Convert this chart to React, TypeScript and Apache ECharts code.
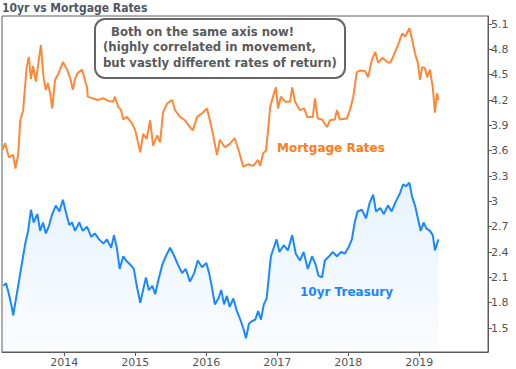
import React, { useEffect, useRef } from "react";
import * as echarts from "echarts";

// decimal-year positions and values
const mortgageTimes = [
  2013.13, 2013.165, 2013.22, 2013.28, 2013.31, 2013.35, 2013.38, 2013.42, 2013.47, 2013.5,
  2013.53, 2013.56, 2013.6, 2013.67, 2013.71, 2013.74, 2013.77, 2013.8, 2013.83, 2013.87,
  2013.91, 2013.94, 2013.98, 2014.04, 2014.09, 2014.12, 2014.15, 2014.19, 2014.25, 2014.28,
  2014.32, 2014.33, 2014.4, 2014.47, 2014.55, 2014.62, 2014.69, 2014.71, 2014.76, 2014.8,
  2014.83, 2014.88, 2014.95, 2015.0, 2015.07, 2015.11, 2015.16, 2015.21, 2015.25, 2015.31,
  2015.35, 2015.39, 2015.45, 2015.52, 2015.56, 2015.63, 2015.7, 2015.77, 2015.81, 2015.87,
  2015.95, 2016.01, 2016.05, 2016.09, 2016.15, 2016.19, 2016.26, 2016.33, 2016.4, 2016.47,
  2016.52, 2016.59, 2016.66, 2016.73, 2016.76, 2016.8, 2016.84, 2016.87, 2016.9, 2016.94,
  2016.98, 2017.01, 2017.05, 2017.11, 2017.18, 2017.21, 2017.25, 2017.32, 2017.38, 2017.42,
  2017.5, 2017.53, 2017.57, 2017.63, 2017.7, 2017.74, 2017.81, 2017.84, 2017.88, 2017.98,
  2018.03, 2018.07, 2018.12, 2018.17, 2018.24, 2018.28, 2018.33, 2018.38, 2018.42, 2018.48,
  2018.55, 2018.59, 2018.63, 2018.7, 2018.76, 2018.8, 2018.86, 2018.9, 2018.94, 2018.98,
  2019.01, 2019.04, 2019.08, 2019.11, 2019.15, 2019.18, 2019.19, 2019.22, 2019.25, 2019.27,
];
const mortgageValues = [
  3.61, 3.69, 3.52, 3.55, 3.39, 3.55, 3.96, 4.08, 4.59, 4.71,
  4.45, 4.6, 4.42, 4.85, 4.45, 4.32, 4.4, 4.28, 4.1, 4.44,
  4.5, 4.56, 4.65, 4.56, 4.44, 4.32, 4.45, 4.52, 4.56, 4.47,
  4.35, 4.24, 4.22, 4.2, 4.22, 4.19, 4.18, 4.24, 4.12, 4.08,
  3.97, 4.0, 3.93, 3.84, 3.58, 3.8, 3.74, 3.96, 3.66, 3.78,
  3.7, 4.05, 4.16, 4.2, 4.08, 4.0, 3.96, 3.88, 3.84, 4.0,
  4.05, 4.1, 3.96, 3.81, 3.55, 3.73, 3.64, 3.68, 3.75, 3.56,
  3.41, 3.44, 3.42, 3.49, 3.42, 3.57, 3.6, 3.84, 4.12, 4.24,
  4.35, 4.1, 4.24, 4.18, 4.18, 4.35, 4.18, 4.08, 4.1, 4.0,
  4.0, 4.22, 3.98, 3.97, 3.88, 3.96, 3.97, 4.08, 3.97, 3.98,
  4.1, 4.24, 4.53, 4.55, 4.54, 4.47, 4.67, 4.77, 4.64, 4.7,
  4.65, 4.64, 4.71, 4.85, 4.99, 4.95, 5.05, 4.91, 4.75, 4.64,
  4.44, 4.59, 4.58, 4.47, 4.56, 4.4, 4.35, 4.05, 4.28, 4.2,
];

const treasuryTimes = [
  2013.14, 2013.18, 2013.22, 2013.26, 2013.28, 2013.32, 2013.36, 2013.4, 2013.45, 2013.49,
  2013.53, 2013.57, 2013.62, 2013.66, 2013.7, 2013.74, 2013.78, 2013.83, 2013.88, 2013.93,
  2013.98, 2014.02, 2014.07, 2014.11, 2014.15, 2014.21, 2014.26, 2014.32, 2014.38, 2014.43,
  2014.49, 2014.55, 2014.6, 2014.66, 2014.7, 2014.74, 2014.78, 2014.83, 2014.87, 2014.93,
  2014.98, 2015.02, 2015.07, 2015.11, 2015.15, 2015.19, 2015.24, 2015.28, 2015.32, 2015.38,
  2015.43, 2015.49, 2015.55, 2015.6, 2015.66, 2015.71, 2015.77, 2015.83, 2015.88, 2015.94,
  2016.0, 2016.04, 2016.08, 2016.12, 2016.17, 2016.21, 2016.25, 2016.29, 2016.33, 2016.38,
  2016.43, 2016.47, 2016.52, 2016.56, 2016.6, 2016.64, 2016.69, 2016.73, 2016.77, 2016.81,
  2016.85, 2016.88, 2016.91, 2016.95, 2016.99, 2017.03, 2017.09, 2017.15, 2017.21, 2017.26,
  2017.32, 2017.37, 2017.43, 2017.49, 2017.54, 2017.58, 2017.63, 2017.67, 2017.73, 2017.78,
  2017.84, 2017.9, 2017.95, 2018.0, 2018.05, 2018.09, 2018.13, 2018.19, 2018.25, 2018.3,
  2018.35, 2018.39, 2018.45, 2018.5, 2018.56, 2018.61, 2018.67, 2018.73, 2018.77, 2018.81,
  2018.86, 2018.9, 2018.94, 2018.98, 2019.02, 2019.06, 2019.1, 2019.15, 2019.19, 2019.22,
  2019.25, 2019.27,
];
const treasuryValues = [
  2.0, 2.03, 1.9, 1.75, 1.65, 1.85, 2.05, 2.25, 2.5, 2.65,
  2.9, 2.75, 2.85, 2.65, 2.75, 2.62, 2.7, 2.85, 2.95, 2.88,
  3.02, 2.88, 2.72, 2.75, 2.65, 2.75, 2.65, 2.7, 2.58, 2.62,
  2.55, 2.5, 2.55, 2.45, 2.6, 2.45, 2.2, 2.35, 2.3, 2.25,
  2.2, 2.0, 1.8, 1.95, 2.1, 1.95, 2.0, 1.9, 2.05, 2.25,
  2.35, 2.45, 2.35, 2.25, 2.15, 2.2, 2.05, 2.15, 2.3, 2.22,
  2.27, 2.15, 1.98, 1.78, 1.85, 1.95, 1.78, 1.88, 1.75, 1.85,
  1.7, 1.62, 1.5, 1.38, 1.55, 1.58, 1.6, 1.7, 1.6, 1.78,
  1.85, 2.1, 2.35, 2.45, 2.55, 2.4, 2.48, 2.42, 2.6, 2.38,
  2.3, 2.4, 2.2, 2.35, 2.25, 2.12, 2.1, 2.3, 2.35, 2.4,
  2.35, 2.4, 2.38, 2.45, 2.55, 2.75, 2.88, 2.9, 2.8, 2.98,
  3.08, 2.88, 2.92, 2.85, 2.95, 2.88, 3.0, 3.1, 3.2, 3.18,
  3.22, 3.05, 2.95, 2.8, 2.65, 2.75, 2.68, 2.65, 2.6, 2.42,
  2.5, 2.55,
];

const yearTicks = [2014, 2015, 2016, 2017, 2018, 2019];
const rateTicks = [1.5, 1.8, 2.1, 2.4, 2.7, 3, 3.3, 3.6, 3.9, 4.2, 4.5, 4.8, 5.1];

const titleText = "10yr vs Mortgage Rates";
const noteLines = [
  "Both on the same axis now!",
  "(highly correlated in movement,",
  "but vastly different rates of return)",
];
const mortgageLabel = "Mortgage Rates";
const treasuryLabel = "10yr Treasury";

const FONT = "Verdana, 'DejaVu Sans', sans-serif";
const NARROW = "Tahoma, 'DejaVu Sans Condensed', 'Liberation Sans', sans-serif";

export default function App() {
  const ref = useRef<HTMLDivElement>(null);
  useEffect(() => {
    if (!ref.current) return;
    const chart = echarts.init(ref.current, undefined, { renderer: "svg" });
    const mortgage = mortgageTimes.map((t, i) => [t, mortgageValues[i]]);
    const treasury = treasuryTimes.map((t, i) => [t, treasuryValues[i]]);
    chart.setOption({
      animation: false,
      backgroundColor: "#ffffff",
      grid: {
        left: 2,
        right: 28,
        top: 16,
        bottom: 17,
        show: true,
        borderColor: "#5c5c5c",
        borderWidth: 1,
        backgroundColor: "transparent",
      },
      xAxis: {
        type: "value",
        min: 2013.1225,
        max: 2019.9676,
        axisLine: { show: true, lineStyle: { color: "#5c5c5c", width: 1 } },
        axisTick: {
          show: true,
          customValues: yearTicks,
          length: 4,
          lineStyle: { color: "#5c5c5c" },
        },
        axisLabel: {
          customValues: yearTicks,
          formatter: (v: number) => String(v),
          color: "#555",
          fontFamily: FONT,
          fontSize: 11,
          margin: 5,
        },
        splitLine: { show: false },
      },
      yAxis: {
        type: "value",
        position: "right",
        min: 1.216,
        max: 5.195,
        axisLine: { show: true, lineStyle: { color: "#5c5c5c", width: 1 } },
        axisTick: {
          show: true,
          customValues: rateTicks,
          length: 4,
          lineStyle: { color: "#5c5c5c" },
        },
        axisLabel: {
          customValues: rateTicks,
          formatter: (v: number) => String(Math.round(v * 10) / 10),
          color: "#555",
          fontFamily: FONT,
          fontSize: 11,
          margin: 3,
        },
        splitLine: { show: false },
      },
      series: [
        {
          type: "line",
          data: treasury,
          showSymbol: false,
          lineStyle: { color: "#1a88ff", width: 2 },
          itemStyle: { color: "#1a88ff" },
          areaStyle: {
            origin: "start",
            color: new echarts.graphic.LinearGradient(0, 0, 0, 1, [
              { offset: 0, color: "rgba(40,140,240,0.16)" },
              { offset: 1, color: "rgba(40,140,240,0.03)" },
            ]),
          },
          z: 2,
        },
        {
          type: "line",
          data: mortgage,
          showSymbol: false,
          lineStyle: { color: "#ff8838", width: 2 },
          itemStyle: { color: "#ff8838" },
          z: 3,
        },
      ],
      graphic: [
        {
          type: "text",
          left: 2,
          top: 2,
          style: {
            text: titleText,
            fill: "#4e5865",
            font: `bold 12px ${NARROW}`,
          },
        },
        {
          type: "rect",
          shape: { x: 95, y: 19, width: 250, height: 59, r: 10 },
          style: { fill: "#ffffff", stroke: "#666666", lineWidth: 2 },
          z: 10,
        },
        ...noteLines.map((line, i) => ({
          type: "text",
          x: i === 0 ? 111 : 103,
          y: 31.5 + i * 15.5,
          z: 11,
          style: {
            text: line,
            fill: "#5a5a5a",
            font: `bold 11.7px ${FONT}`,
            verticalAlign: "middle",
          },
        })),
        {
          type: "text",
          x: 277,
          y: 148,
          z: 11,
          style: {
            text: mortgageLabel,
            fill: "#ff7b1c",
            font: `bold 12px ${FONT}`,
            verticalAlign: "middle",
          },
        },
        {
          type: "text",
          x: 300,
          y: 292,
          z: 11,
          style: {
            text: treasuryLabel,
            fill: "#1a86ff",
            font: `bold 12px ${FONT}`,
            verticalAlign: "middle",
          },
        },
      ],
    });
    return () => chart.dispose();
  }, []);
  return <div ref={ref} style={{ width: 516, height: 369, position: "fixed", left: 0, top: 0 }} />;
}
